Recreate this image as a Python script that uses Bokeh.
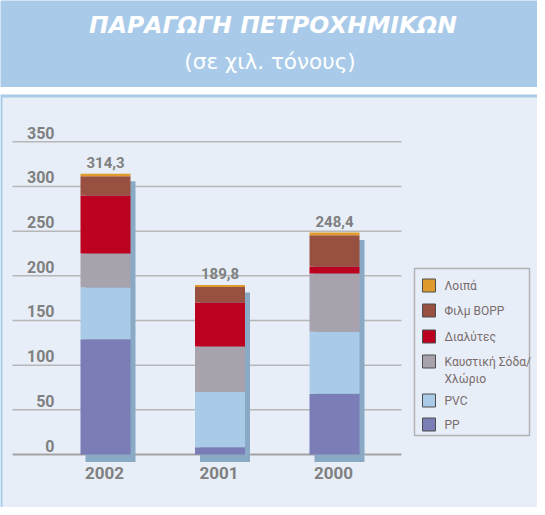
from bokeh.plotting import figure
from bokeh.models import Range1d, ColumnDataSource
from bokeh.core.properties import value
from bokeh.embed import file_html
from bokeh.resources import INLINE

# ---------------- data ----------------
years = ["2002", "2001", "2000"]
series_names = ["PP", "PVC", "Καυστική Σόδα/Χλώριο", "Διαλύτες", "Φιλμ BOPP", "Λοιπά"]
pp = [129.0, 8.0, 68.0]
pvc = [58.0, 62.0, 69.5]
caustic = [38.0, 51.0, 65.0]
solvents = [65.0, 49.0, 8.0]
bopp = [21.5, 17.5, 35.0]
other = [2.8, 2.3, 2.9]
totals = [314.3, 189.8, 248.4]
y_ticks = [0, 50, 100, 150, 200, 250, 300, 350]

title = "ΠΑΡΑΓΩΓΗ ΠΕΤΡΟΧΗΜΙΚΩΝ"
subtitle = "(σε χιλ. τόνους)"

colors = ["#7b7db6", "#a9cbe8", "#a8a2ad", "#bb0020", "#985040", "#e09b2d"]

# ---------------- layout helpers (page px -> data) ----------------
W, H = 537, 507
OX, OY = 8, 8
U = 114.5        # px per category
C0 = 113.0       # page x of first category centre
S = 0.8935       # px per unit
Y0 = 462.0       # page y of value 0


def X(px):
    return (px - C0) / U


def Y(py):
    return (Y0 - py) / S


FONT = value("Roboto")
GREY = "#808080"

p = figure(width=W, height=H,
           x_range=Range1d(X(OX), X(OX + W)),
           y_range=Range1d(Y(OY + H), Y(OY)),
           output_backend="svg", toolbar_location=None,
           x_axis_location=None, y_axis_location=None,
           min_border=0)
p.grid.visible = False
p.outline_line_color = None
p.background_fill_color = "white"
p.border_fill_color = "white"

# banner
p.quad(left=X(7), right=X(546), top=Y(4), bottom=Y(94.5),
       fill_color="#a9cbe9", line_color=None)
p.text(x=[X(280.5)], y=[Y(32)], text=[title], text_align="center",
       text_baseline="middle", text_font=value("DejaVu Sans"),
       text_font_size="23.5px", text_font_style="bold italic",
       text_color="white")
p.text(x=[X(277.5)], y=[Y(68.5)], text=[subtitle], text_align="center",
       text_baseline="middle", text_font=value("DejaVu Sans"),
       text_font_size="21.5px", text_color="white")

# panel
p.quad(left=X(7), right=X(546), top=Y(102), bottom=Y(516),
       fill_color="#a9cbe9", line_color=None)
p.quad(left=X(10), right=X(546), top=Y(105), bottom=Y(516),
       fill_color="#e7eef8", line_color=None)

# grid lines
p.segment(x0=X(20), x1=X(409), y0=y_ticks[1:], y1=y_ticks[1:],
          line_color="#b7b7b7", line_width=1.5)
p.segment(x0=[X(20)], x1=[X(409)], y0=[0], y1=[0],
          line_color="#a3a3a3", line_width=2)

# tick labels
p.text(x=X(62), y=y_ticks, text=[str(t) for t in y_ticks],
       text_align="right", text_baseline="middle", y_offset=-9,
       text_font=FONT, text_font_size="16px", text_font_style="bold",
       text_color=GREY)

idx = list(range(len(years)))
bar_w = 50 / U

# shadows
dx = 5 / U
dy = 7.5 / S
p.vbar(x=[i + dx for i in idx], width=bar_w,
       top=[t - dy for t in totals], bottom=-dy,
       fill_color="#89a9c5", line_color=None)

# stacked bars
src = ColumnDataSource(dict(x=idx, pp=pp, pvc=pvc, caustic=caustic,
                            solvents=solvents, bopp=bopp, other=other))
p.vbar_stack(["pp", "pvc", "caustic", "solvents", "bopp", "other"],
             x="x", width=bar_w, color=colors, line_color=None, source=src)

# totals
p.text(x=idx, y=totals, text=[f"{t:.1f}".replace(".", ",") for t in totals],
       text_align="center", text_baseline="middle", y_offset=-11,
       text_font=FONT, text_font_size="15px", text_font_style="bold",
       text_color=GREY)

# category labels
p.text(x=idx, y=[0] * len(idx), text=years, text_align="center",
       text_baseline="middle", y_offset=18.5, x_offset=-1,
       text_font=FONT, text_font_size="17px", text_font_style="bold",
       text_color=GREY)

# legend (top item = last series)
p.quad(left=X(422), right=X(537), top=Y(276), bottom=Y(443),
       fill_color=None, line_color="#b3b3b3", line_width=1.5)
row_y = [293, 318, 344, 369, 408, 432]
leg_names = series_names[::-1]
leg_colors = colors[::-1]
p.rect(x=X(436.5), y=[Y(r) for r in row_y], width=13, height=13,
       width_units="screen", height_units="screen",
       fill_color=leg_colors, line_color="#4d4d4d", line_width=1)
lx, ly, lt = [], [], []
for name, r in zip(leg_names, row_y):
    parts = name.split("/")
    if len(parts) > 1:
        lines = [parts[0] + "/", parts[1]]
    else:
        lines = parts
    for k, ln in enumerate(lines):
        lx.append(X(452))
        ly.append(Y(r + 17 * k))
        lt.append(ln)
p.text(x=lx, y=ly, text=lt, text_align="left", text_baseline="middle",
       text_font=FONT, text_font_size="12px", text_color="#7a6c6c")

open("out.html", "w").write(file_html(p, INLINE))
